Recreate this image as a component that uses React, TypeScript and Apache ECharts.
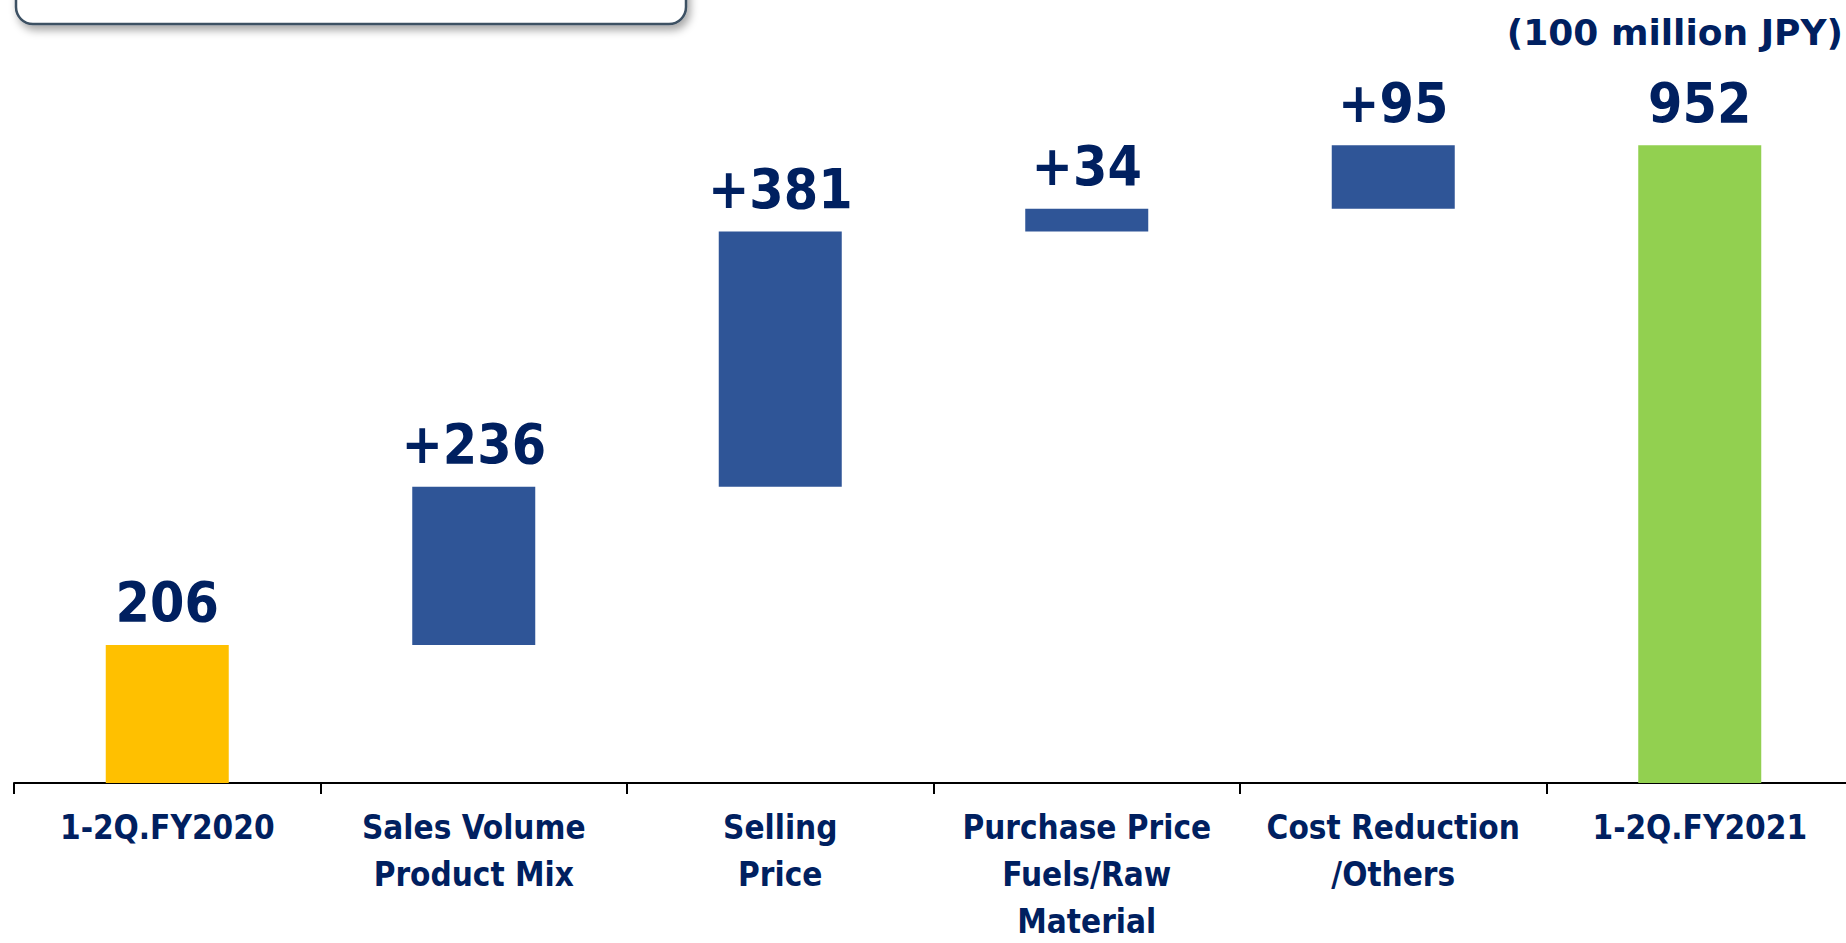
import React, { useEffect, useRef } from "react";
import * as echarts from "echarts";

const categories = [
  "1-2Q.FY2020",
  "Sales Volume\nProduct Mix",
  "Selling\nPrice",
  "Purchase Price\nFuels/Raw\nMaterial",
  "Cost Reduction\n/Others",
  "1-2Q.FY2021",
];
const values = [206, 236, 381, 34, 95, 952];
const isTotal = [true, false, false, false, false, true];
const barColors = ["#FFC000", "#2F5597", "#2F5597", "#2F5597", "#2F5597", "#92D050"];
const unitLabel = "(100 million JPY)";

const TEXT = "#002060";
const FONT = '"DejaVu Sans Condensed", "DejaVu Sans", sans-serif';

export default function App() {
  const ref = useRef<HTMLDivElement>(null);
  useEffect(() => {
    if (!ref.current) return;
    const chart = echarts.init(ref.current, undefined, { renderer: "svg" });
    let run = 0;
    const bases = values.map((v, i) => {
      if (isTotal[i]) {
        run = v;
        return 0;
      }
      const b = run;
      run += v;
      return b;
    });
    chart.setOption({
      animation: false,
      grid: {
        left: 14,
        width: 1839,
        top: 113,
        bottom: 160,
        containLabel: false,
        outerBoundsMode: "none",
      },
      xAxis: {
        type: "category",
        data: categories,
        boundaryGap: true,
        axisLine: { show: true, lineStyle: { color: "#000", width: 2 } },
        axisTick: { show: true, length: 11, lineStyle: { color: "#000", width: 2 } },
        axisLabel: {
          interval: 0,
          margin: 21,
          color: TEXT,
          fontWeight: "bold",
          fontSize: 33,
          lineHeight: 47,
          fontFamily: FONT,
          verticalAlign: "top",
        },
      },
      yAxis: { type: "value", min: 0, max: 1000, show: false, splitLine: { show: false } },
      series: [
        {
          type: "bar",
          stack: "w",
          data: bases,
          barWidth: 123,
          itemStyle: { color: "transparent" },
          silent: true,
        },
        {
          type: "bar",
          stack: "w",
          barWidth: 123,
          data: values.map((v, i) => ({ value: v, itemStyle: { color: barColors[i] } })),
          label: {
            show: true,
            position: "top",
            distance: 15,
            color: TEXT,
            fontWeight: "bold",
            fontSize: 55,
            lineHeight: 55,
            fontFamily: FONT,
            formatter: (p: any) => (isTotal[p.dataIndex] ? String(p.value) : "+" + p.value),
          },
        },
      ],
      graphic: [
        {
          type: "rect",
          shape: { x: 16, y: -40, width: 670, height: 64, r: 17 },
          style: {
            fill: "#fff",
            stroke: "#3D5164",
            lineWidth: 2.5,
            shadowBlur: 8,
            shadowColor: "rgba(0,0,0,0.35)",
            shadowOffsetX: 3,
            shadowOffsetY: 5,
          },
        },
        {
          type: "text",
          x: 1843,
          y: 32,
          style: {
            text: unitLabel,
            align: "right",
            verticalAlign: "middle",
            fill: TEXT,
            fontWeight: "bold",
            fontSize: 36,
            fontFamily: '"DejaVu Sans", "Noto Sans CJK JP", sans-serif',
          },
        },
      ],
    });
    return () => chart.dispose();
  }, []);
  return (
    <div style={{ position: "fixed", left: 0, top: 0, width: 1846, height: 943, overflow: "hidden", background: "#fff" }}>
      <div ref={ref} style={{ width: 1860, height: 943 }} />
    </div>
  );
}
